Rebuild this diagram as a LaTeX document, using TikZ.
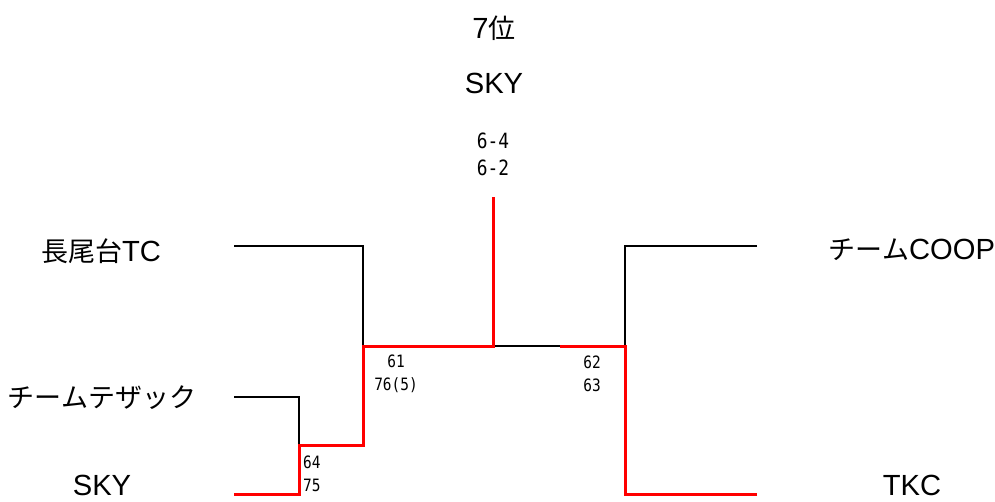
\documentclass[tikz,border=0pt]{standalone}
\usepackage{fontspec}
\setmainfont{Liberation Sans}[Scale=1.08]
\newfontfamily\jp{Noto Sans CJK JP}
\newfontfamily\digits{DejaVu Sans Mono}[FakeStretch=0.85]
\usetikzlibrary{positioning}

\tikzset{
  team/.style={font=\fontsize{27}{30}\selectfont, inner ysep=0pt},
  score/.style={font=\digits\fontsize{17}{23}\selectfont, align=center},
  lose/.style={draw=black, line width=1.6pt},
  win/.style={draw=red, line width=3pt}
}

\begin{document}
\begin{tikzpicture}[x=1pt,y=-1pt]
  \useasboundingbox (0,0) rectangle (995,502);
  % headline
  \node [team] (rank) at (494, 28) {7{\jp 位}};
  \node [team] (champ) at (494, 83) {SKY};
  \node [font=\digits\fontsize{21}{27}\selectfont, align=center] (final) at (493, 154) {6-4\\6-2};
  % teams
  \node [team] (nagao) at (101, 251) {{\jp 長尾台}TC};
  \node [team] (tezac) at (102, 398) {\jp チームテザック};
  \node [team] (sky) at (102, 485) {SKY};
  \node [team] (coop) at (912, 250) {{\jp チーム}COOP};
  \node [team] (tkc) at (912, 485) {TKC};
  % line ends and joins
  \coordinate (l1) at (234, 246);
  \coordinate (l2) at (234, 397);
  \coordinate (l3) at (234, 494);
  \coordinate (r1) at (757, 246);
  \coordinate (r2) at (757, 494);
  \coordinate (j1) at (299, 445);
  \coordinate (j2) at (363, 346);
  \coordinate (j3) at (625, 346);
  \coordinate (mid) at (493, 346);
  \coordinate (half) at (560, 346);
  \coordinate (top) at (493, 197);
  % scores
  \node [score] (s1) at (396, 374) {61\\76(5)};
  \node [score] (s2) at (592, 374) {62\\63};
  \node [score, anchor=west, inner xsep=0pt] (s3) at (303, 474) {64\\75};
  % losers
  \draw [lose] (l1) -| (j2);
  \draw [lose] (l2) -| (j1);
  \draw [lose] (r1) -| (j3);
  \draw [lose] (mid) -- (half);
  % winners
  \draw [win] (l3) -| (j1) -| (j2) -| (top);
  \draw [win] (r2) -| (j3) -- (half);
\end{tikzpicture}
\end{document}
